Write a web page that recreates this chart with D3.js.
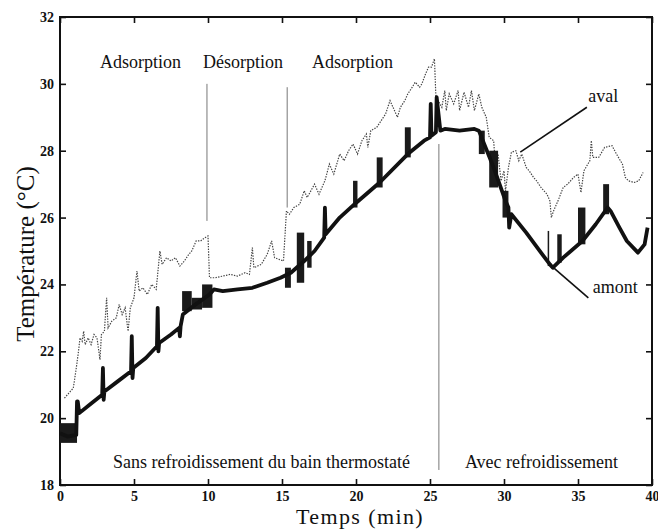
<!DOCTYPE html>
<html><head><meta charset="utf-8">
<script src="https://cdn.jsdelivr.net/npm/d3@7"></script>
<style>
html,body{margin:0;padding:0;background:#fff;}
svg text{font-family:"Liberation Serif",serif;fill:#111;}
</style></head>
<body><svg id="c" width="658" height="530"></svg>
<script>
// ---- data ----
const xTicks = [0,5,10,15,20,25,30,35,40];
const yTicks = [18,20,22,24,26,28,30,32];

// amont (upstream) centre line, incl. spikes
const amontT = [0,0.5,1.1,1.15,1.2,1.3,2.0,2.85,2.9,2.95,3.0,3.9,4.8,4.85,4.9,4.95,5.8,6.55,6.6,6.65,6.7,7.5,8.05,8.1,8.15,8.3,9.0,10.1,10.4,11,12,13,14,14.9,15.6,16.5,17.2,17.85,17.9,17.95,18.9,19.9,21.6,23.5,24.6,25.0,25.05,25.1,25.4,25.45,25.7,26,27,28,28.3,29.3,30.1,30.3,30.35,30.5,31.5,32.5,33.1,33.3,34.0,35.3,36.2,37.0,37.2,37.8,38.3,39.05,39.5,39.7];
const amontV = [19.55,19.45,19.5,20.5,20.5,20.15,20.4,20.7,21.5,20.55,20.8,21.1,21.4,22.45,21.2,21.5,21.8,22.15,23.3,22.0,22.25,22.5,22.7,22.45,22.75,23.1,23.35,23.7,23.85,23.8,23.85,23.9,24.05,24.2,24.35,24.7,25.0,25.4,26.3,25.5,26.0,26.4,27.05,27.9,28.3,28.4,29.4,28.45,28.55,29.6,28.6,28.65,28.6,28.65,28.6,27.5,26.5,26.3,25.7,26.1,25.55,24.95,24.6,24.5,24.8,25.3,25.8,26.3,26.2,25.7,25.3,24.95,25.2,25.7];

// thick blocks on the amont trace
const blockT0 = [0.0,8.25,8.9,9.6,15.2,16.0,16.7,19.8,21.4,23.3,28.3,29.0,29.9,32.95,33.6,35.0,36.7];
const blockT1 = [1.15,8.9,9.6,10.3,15.6,16.5,17.0,20.1,21.8,23.7,28.7,29.6,30.3,33.05,33.9,35.5,37.1];
const blockLo = [19.26,23.2,23.25,23.3,23.9,24.05,24.5,26.3,26.9,27.8,27.9,26.9,26.0,24.55,24.65,25.2,26.1];
const blockHi = [19.85,23.8,23.6,24.0,24.5,25.55,25.3,27.1,27.8,28.7,28.6,28.0,26.8,25.6,25.5,26.3,27.0];

// aval (downstream) noisy trace
const avalT = [0.3,0.6,0.9,1.1,1.25,1.35,1.5,1.6,1.7,1.9,2.1,2.3,2.5,2.7,2.8,3.0,3.15,3.25,3.5,3.8,4.0,4.2,4.4,4.6,4.75,5.0,5.2,5.35,5.6,5.9,6.2,6.5,6.75,6.9,7.2,7.5,7.8,8.1,8.4,8.7,8.9,9.2,9.5,9.8,10.0,10.1,10.5,11,11.5,12,12.5,12.8,13.0,13.1,13.6,14.0,14.3,14.5,14.8,15.1,15.3,15.5,15.8,16.2,16.5,16.7,17.2,17.5,17.9,18.2,18.5,18.9,19.2,19.5,19.8,20.1,20.4,20.7,20.8,21.0,21.4,21.7,22.0,22.3,22.6,22.8,23.0,23.3,23.5,23.8,24.0,24.3,24.45,24.7,24.9,25.1,25.3,25.4,25.8,26.0,26.1,26.3,26.6,26.9,27.0,27.3,27.6,27.8,28.0,28.3,28.5,28.8,29.0,29.3,29.4,29.6,29.8,30.0,30.1,30.3,30.5,30.8,31.0,31.2,31.5,31.7,32.0,32.2,32.5,32.9,33.1,33.2,33.35,33.65,34.0,34.3,34.7,35.0,35.2,35.4,35.8,35.9,36.0,36.4,36.8,37.3,37.6,38.0,38.2,38.4,38.8,39.1,39.4];
const avalV = [20.6,20.75,20.9,21.5,22.0,22.4,22.3,22.6,22.2,22.4,22.2,22.5,22.4,21.75,22.5,22.6,23.6,22.7,22.9,23.0,23.4,23.1,23.3,22.6,23.3,23.6,24.4,23.8,23.9,23.7,24.0,23.85,25.0,24.6,24.8,24.7,24.8,24.55,24.7,24.9,25.0,25.3,25.3,25.4,25.45,24.2,24.2,24.25,24.3,24.25,24.35,24.3,25.1,24.5,24.6,24.9,25.3,24.8,24.75,24.7,26.2,26.1,26.3,26.4,26.8,26.6,27.0,26.7,27.1,27.6,27.3,27.9,27.7,28.0,28.2,27.9,28.3,28.5,28.1,28.6,28.7,28.9,29.1,29.5,29.2,29.0,29.3,29.5,29.7,29.9,30.05,29.9,30.0,30.3,30.5,30.5,30.75,29.6,29.3,29.8,29.2,29.7,29.4,29.8,29.2,29.75,29.3,29.8,29.2,29.7,29.3,29.0,28.4,28.3,27.7,27.9,27.1,27.4,26.8,27.5,27.95,28.0,27.7,27.9,27.5,27.4,27.2,27.1,26.9,26.7,26.5,26.0,26.2,26.5,26.9,27.0,27.2,27.3,26.75,27.4,27.7,28.3,27.8,27.8,28.1,28.15,27.9,27.6,27.2,27.1,27.05,27.1,27.35];

// phase separators
const sepT = [9.93,15.35,25.6];
const sepTop = [30.0,29.9,28.2];
const sepBottom = [25.9,26.3,18.45];

// annotations
const phaseLabels = ["Adsorption","Désorption","Adsorption"];
const phaseLabelT = [2.7,9.66,17.03];
const phaseLabelV = 30.47;
const regimeLabels = ["Sans refroidissement du bain thermostaté","Avec refroidissement"];
const regimeLabelT = [3.58,27.36];
const regimeLabelV = 18.5;
const seriesLabels = ["aval","amont"];
const seriesLabelT = [35.7,36.0];
const seriesLabelV = [29.46,23.74];
const leaderT0 = [35.6,33.3], leaderV0 = [29.3,24.52];
const leaderT1 = [31.1,35.7], leaderV1 = [27.96,23.6];

// ---- chart ----
const svg = d3.select("#c");
const x = d3.scaleLinear().domain([0,40]).range([60,652]);
const y = d3.scaleLinear().domain([18,32]).range([485,17]);

function styleAxis(g){
  g.select(".domain").remove();
  g.selectAll(".tick line").attr("stroke","#111").attr("stroke-width",1.6);
  g.selectAll(".tick text").attr("font-family","Liberation Serif").attr("font-weight","bold").attr("font-size",14).attr("fill","#111");
}
svg.append("g").attr("transform",`translate(0,${y(18)})`)
  .call(d3.axisBottom(x).tickValues(xTicks).tickFormat(d3.format("d")).tickSizeInner(-6).tickSizeOuter(0).tickPadding(6)).call(styleAxis);
svg.append("g").attr("transform",`translate(0,${y(32)})`)
  .call(d3.axisTop(x).tickValues(xTicks).tickFormat("").tickSizeInner(-6).tickSizeOuter(0)).call(styleAxis);
svg.append("g").attr("transform",`translate(${x(0)},0)`)
  .call(d3.axisLeft(y).tickValues(yTicks).tickFormat(d3.format("d")).tickSizeInner(-6).tickSizeOuter(0).tickPadding(6)).call(styleAxis);
svg.append("g").attr("transform",`translate(${x(40)},0)`)
  .call(d3.axisRight(y).tickValues(yTicks).tickFormat("").tickSizeInner(-6).tickSizeOuter(0)).call(styleAxis);

svg.append("rect").attr("x",x(0)).attr("y",y(32)).attr("width",x(40)-x(0)).attr("height",y(18)-y(32))
  .attr("fill","none").attr("stroke","#111").attr("stroke-width",2);

// separators
svg.append("g").selectAll("line").data(sepT).join("line")
  .attr("x1",d=>x(d)).attr("x2",d=>x(d))
  .attr("y1",(d,i)=>y(sepTop[i])).attr("y2",(d,i)=>y(sepBottom[i]))
  .attr("stroke","#777").attr("stroke-width",1);

// aval
const avalData = avalT.map((t,i)=>[t,avalV[i]]);
svg.append("path").datum(avalData)
  .attr("d",d3.line().x(d=>x(d[0])).y(d=>y(d[1])))
  .attr("fill","none").attr("stroke","#444").attr("stroke-width",1.2).attr("stroke-dasharray","1.4,1.3");

// amont blocks
svg.append("g").selectAll("rect").data(blockT0).join("rect")
  .attr("x",(d)=>x(d)).attr("width",(d,i)=>Math.max(1.5,x(blockT1[i])-x(d)))
  .attr("y",(d,i)=>y(blockHi[i])).attr("height",(d,i)=>y(blockLo[i])-y(blockHi[i]))
  .attr("fill","#1a1a1a");

// amont line
const amontData = amontT.map((t,i)=>[t,amontV[i]]);
svg.append("path").datum(amontData)
  .attr("d",d3.line().x(d=>x(d[0])).y(d=>y(d[1])))
  .attr("fill","none").attr("stroke","#111").attr("stroke-width",3.8).attr("stroke-linejoin","round");

// leaders
svg.append("g").selectAll("line").data(leaderT0).join("line")
  .attr("x1",d=>x(d)).attr("y1",(d,i)=>y(leaderV0[i]))
  .attr("x2",(d,i)=>x(leaderT1[i])).attr("y2",(d,i)=>y(leaderV1[i]))
  .attr("stroke","#111").attr("stroke-width",1.6);

// texts
svg.append("g").selectAll("text").data(phaseLabels).join("text")
  .attr("x",(d,i)=>x(phaseLabelT[i])).attr("y",y(phaseLabelV)).attr("font-size",18).text(d=>d);
svg.append("g").selectAll("text").data(regimeLabels).join("text")
  .attr("x",(d,i)=>x(regimeLabelT[i])).attr("y",y(regimeLabelV)).attr("font-size",18).text(d=>d);
svg.append("g").selectAll("text").data(seriesLabels).join("text")
  .attr("x",(d,i)=>x(seriesLabelT[i])).attr("y",(d,i)=>y(seriesLabelV[i])).attr("font-size",18).text(d=>d);

svg.append("text").attr("x",360).attr("y",524).attr("text-anchor","middle").attr("font-size",22)
  .attr("letter-spacing","1.4px").text("Temps (min)");
svg.append("text").attr("transform","translate(34,254) rotate(-90)").attr("text-anchor","middle").attr("font-size",25).text("Température (°C)");
</script></body></html>
